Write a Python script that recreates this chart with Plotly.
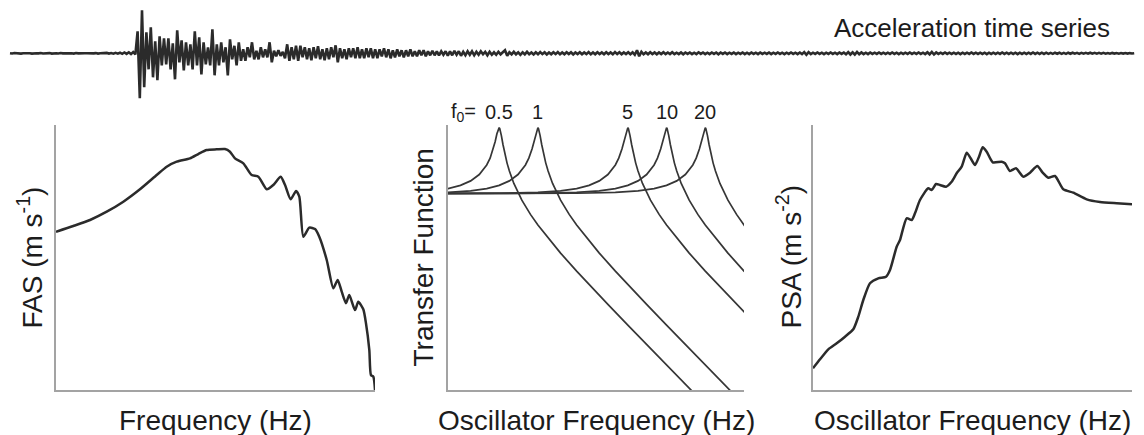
import numpy as np
import plotly.graph_objects as go

# ---------------- acceleration record (uniform sampling, arbitrary units) ----------------
dt = 0.1  # s
accel_pre = [0.1, -0.2, 0.3, -0.1, 0.2, -0.3, 0.1, 0.2, -0.2, 0.1,
             -0.3, 0.2, 0.0, -0.1, 0.3, -0.2, 0.1, -0.1, 0.2, -0.3,
             0.2, 0.1, -0.2, 0.3, -0.1, 0.0, 0.2, -0.2, 0.1, -0.3,
             0.3, -0.1, 0.2, -0.2, 0.1, 0.0, -0.2, 0.3, -0.1, 0.2,
             -0.3, 0.1, 0.2, -0.2, 0.4, -0.3, 0.2, -0.4, 0.5, -0.3,
             0.6, -0.5, 0.8, -0.6, 1.0, -0.8, 1.2, -1.0]
accel_strong = [22, -45, 43, -34, 21, -16, 26, -24, 12, -27,
                17, -12, 15, -11, 15, -16, 10, -26, 23, -9,
                13, -17, 11, -12, 9, -16, 22, -12, 16, -21,
                11, -11, 6, -12, 24, -22, 9, -12, 11, -9,
                6, -22, 14, -6, 7.5, -12, 11, -7.5, 4, -7.5,
                6, -4, 11, -6, 2.5, -6, 6, -4, 4, -4,
                11, -9, 2.5, -3, 3, -2.5, 1.5, -5, 9, -7.5,
                6, -6, 7.5, -7.5, 7.5, -4, 6]
accel_coda = [-6, 5, -7, 6, -5, 7, -6, 4, -7, 5,
              -6, 6, -4, 8, -9, 5, -5, 4, -6, 5,
              -4, 5, -5, 6, -5, 4, -5, 5, -4, 5,
              -5, 4, -5, 4, -3, 5, -4, 4, -5, 3,
              -4, 4, -3, 3, -4, 3, -3, 4, -3, 2,
              -3, 3, -2, 3, -3, 2, -2, 2.5, -2, 2,
              -2, 2, -1.5, 2]
accel_tail = [-2.5, 2, -2, 2.5, -1.5, 2, -2.5, 1.5, -2, 2,
              -1.5, 2, -2, 1.5, -1.5, 2, -1, 1.5, -2, 1.5,
              -1.5, 1, -1.5, 1.5, -1, 1, 3, -2.5, 1, -1,
              1.5, -1, 1, -1.5, 1, -1, 1.5, -1, 0.8, -1.2,
              1, -1, 1.2, -0.8, 1, -1.2, 0.8, -1, 1, -0.8,
              1.2, -1, 0.8, -1, 1, -0.8, 1, -1.2, 0.8, -0.8,
              1, -1, 0.8, -0.8, 1.2, -1, 0.8, -1, 1, -0.8,
              0.8, -1, 1, -0.8, 0.8, -1, 1.2, -0.8, 1, -1,
              0.8, -0.8, 1, -1, 1, -1.5, 3, -3, 1.5, -1,
              0.8, -1, 1, -0.8, 0.8, -1, 0.8, -0.8, 1, -0.8,
              0.8, -0.8, 1, -0.8, 0.6, -0.8, 0.8, -1, 0.8, -0.6,
              0.8, -0.8, 0.6, -0.8, 1, -0.6, 0.8, -0.8, 0.6, -0.8,
              0.8, -0.6, 0.8, -1, 0.8, -0.6, 0.8, -0.8, 0.6, -0.6,
              0.8, -0.8, 0.6, -0.6, 0.8, -0.8, 0.6, -0.8, 0.8, -0.6,
              0.6, -0.8, 0.8, -0.6, 0.6, -0.6, 0.8, -0.8, 0.6, -0.6,
              0.8, -0.6, 0.6, -0.8, 0.6, -0.6, 0.8, -0.6, 0.6, -0.8,
              0.8, -0.8, 1.2, -1.5, 1.2, -0.8, 0.6, -0.6, 0.8, -0.6,
              0.6, -0.8, 0.6, -0.6, 0.8, -0.6, 0.6, -0.8, 0.8, -0.6,
              0.8, -1, 1.2, -1.2, 1, -1.2, 1.4, -1, 0.8, -0.8,
              0.6, -0.8, 0.8, -0.6, 0.6, -0.6, 0.8, -0.6, 0.6, -0.6,
              0.6, -0.6, 0.8, -0.6, 0.6, -0.8, 0.6, -0.6, 0.6, -0.6,
              0.8, -0.6, 0.6, -0.6, 0.8, -0.6, 0.6, -0.8, 1, -1,
              1.4, -1.2, 0.8, -0.6, 0.6, -0.6, 0.8, -0.6, 0.6, -0.6,
              0.6, -0.6, 0.6, -0.8, 0.6, -0.6, 0.6, -0.6, 0.8, -0.6,
              0.6, -0.6, 0.6, -0.6, 0.6, -0.8, 0.6, -0.6, 0.6, -0.6,
              0.6, -0.6, 0.8, -0.6, 0.6, -0.6, 0.6, -0.6, 0.6, -0.8,
              0.6, -0.6, 0.6, -0.6, 0.6, -0.6, 0.8, -0.6, 0.6, -0.6,
              0.6, -0.6, 0.6, -0.6, 0.4, -0.6, 0.6, -0.4, 0.6, -0.6,
              0.4, -0.6, 0.6, -0.4, 0.6, -0.4, 0.4, -0.6, 0.4, -0.4,
              0.4, -0.4, 0.6, -0.4, 0.4, -0.4, 0.4, -0.4, 0.4, -0.4,
              0.3, -0.4, 0.4, -0.3, 0.3, -0.4, 0.3, -0.3, 0.3, -0.3,
              0.2, -0.2, 0.1]
accel = accel_pre + accel_strong + accel_coda + accel_tail
time = np.arange(len(accel)) * dt

# ---------------- Fourier amplitude spectrum ----------------
fas_freq = [0.05, 0.0727, 0.1045, 0.150, 0.2148, 0.308, 0.4426, 0.5495, 0.682, 0.910,
            1.089, 1.306, 1.622, 1.941, 2.163, 2.41, 2.89, 3.46, 4.0, 4.80,
            5.53, 6.49, 7.13, 8.05, 9.04, 9.71, 10.59, 12.05, 13.65, 14.96,
            17.58, 20.28, 22.28, 24.32, 26.67, 28.64, 32.43, 34.83, 38.8, 41.1,
            44.2, 45.8, 48.2, 50.0]
fas_amp = [0.02449, 0.02987, 0.0368, 0.0491, 0.0695, 0.1070, 0.1758, 0.2349, 0.2793, 0.3141,
           0.3648, 0.4195, 0.4295, 0.4345, 0.3954, 0.3141, 0.2642, 0.1758, 0.1659, 0.1070,
           0.1242, 0.1659, 0.1242, 0.0755, 0.1009, 0.0828, 0.0206, 0.0282, 0.0269, 0.0206,
           0.00917, 0.00343, 0.00457, 0.00305, 0.00204, 0.00272, 0.00161, 0.00215, 0.00165, 0.00102,
           0.000402, 0.000168, 0.000159, 0.0001]

# ---------------- SDOF transfer functions (5 % damping) ----------------
f0_values = [0.5, 1, 5, 10, 20]
f0_labels = ["0.5", "1", "5", "10", "20"]
tf_ratio = [0.01, 0.1, 0.2, 0.3, 0.4, 0.5, 0.6, 0.7, 0.8, 0.85,
            0.9, 0.93, 0.96, 0.98, 0.99, 1.0, 1.01, 1.02, 1.04, 1.07,
            1.1, 1.15, 1.2, 1.3, 1.5, 1.75, 2.0, 2.5, 3.0, 4.0,
            5.0, 7.0, 10, 15, 20, 30, 50, 80]
tf_gain = [1.0, 1.010, 1.041, 1.098, 1.189, 1.330, 1.556, 1.943, 2.712, 3.446,
           4.757, 6.097, 8.07, 9.46, 9.903, 10.0, 9.711, 9.115, 7.565, 5.551,
           4.218, 2.921, 2.193, 1.424, 0.7943, 0.4831, 0.3326, 0.1903, 0.1249, 0.06664,
           0.04166, 0.02083, 0.0101, 0.004464, 0.002506, 0.001112, 0.0004002, 0.0001563]

# ---------------- pseudo-spectral acceleration ----------------
psa_freq = [0.1, 0.1164, 0.1393, 0.1671, 0.2, 0.2393, 0.2667, 0.2972, 0.3436, 0.4111,
            0.4862, 0.5297, 0.6124, 0.6577, 0.7603, 0.8472, 0.910, 1.014, 1.213, 1.306,
            1.435, 1.563, 1.782, 2.014, 2.244, 2.5, 2.79, 3.04, 3.34, 3.64,
            3.945, 4.30, 4.90, 5.95, 6.39, 7.12, 8.11, 9.50, 10.99, 12.86,
            14.45, 16.33, 18.88, 22.6, 28.05, 37.5, 50.0, 71.8, 100]
psa_amp = [0.002126, 0.002904, 0.004111, 0.00507, 0.006383, 0.008241, 0.01277, 0.02282, 0.04083, 0.04853,
           0.05129, 0.06471, 0.1455, 0.1837, 0.3908, 0.3681, 0.4645, 0.7379, 1.109, 1.045,
           1.285, 1.242, 1.172, 1.393, 1.866, 2.350, 3.819, 3.141, 2.489, 3.323,
           4.607, 3.954, 2.735, 2.793, 2.642, 2.023, 2.218, 1.660, 1.905, 2.404,
           1.905, 1.603, 1.698, 1.069, 0.9506, 0.7558, 0.6887, 0.6577, 0.6353]

# ---------------- styling ----------------
W, H = 1144, 435
FONT = "Liberation Sans, Arial, sans-serif"
INK = "#2b2b2b"
TEXT = "#1c1c1c"
SPINE = "#a3a3a3"


def px_x(p):
    return p / W


def px_y(p):
    return 1 - p / H


fig = go.Figure()

fig.add_trace(go.Scatter(x=time, y=accel, mode="lines", xaxis="x", yaxis="y",
                         line=dict(color=INK, width=2.6)))

fig.add_trace(go.Scatter(x=fas_freq, y=fas_amp, mode="lines", xaxis="x2", yaxis="y2",
                         line=dict(color=INK, width=2.5, shape="spline", smoothing=0.6)))

tf_ratio_arr = np.array(tf_ratio)
for f0 in f0_values:
    fig.add_trace(go.Scatter(x=tf_ratio_arr * f0, y=tf_gain, mode="lines",
                             xaxis="x3", yaxis="y3",
                             line=dict(color="#363636", width=1.7)))

fig.add_trace(go.Scatter(x=psa_freq, y=psa_amp, mode="lines", xaxis="x4", yaxis="y4",
                         line=dict(color=INK, width=2.5, shape="spline", smoothing=0.6)))

hidden = dict(showline=False, showticklabels=False, showgrid=False, zeroline=False,
              ticks="", fixedrange=True)
spine = dict(showline=True, linecolor=SPINE, linewidth=1.5, showticklabels=False,
             showgrid=False, zeroline=False, ticks="", fixedrange=True)

panel_y = [px_y(390), px_y(125)]

fig.update_layout(
    width=W, height=H,
    margin=dict(l=0, r=0, t=0, b=0),
    paper_bgcolor="white", plot_bgcolor="white",
    showlegend=False,
    xaxis=dict(domain=[0, 1], range=[-10 / 22, 1134 / 22], anchor="y", **hidden),
    yaxis=dict(domain=[px_y(103.3), px_y(3.3)], range=[-50, 50], anchor="x", **hidden),
    xaxis2=dict(domain=[px_x(56), px_x(375)], type="log",
                range=[np.log10(0.05), np.log10(50)], anchor="y2", **spine),
    yaxis2=dict(domain=panel_y, type="log", range=[-4, 0], anchor="x2", **spine),
    xaxis3=dict(domain=[px_x(448), px_x(744)], type="log",
                range=[np.log10(0.2), np.log10(40)], anchor="y3", **spine),
    yaxis3=dict(domain=panel_y, type="log", range=[-2.98, 1.04], anchor="x3", **spine),
    xaxis4=dict(domain=[px_x(813), px_x(1132)], type="log",
                range=[-1, 2], anchor="y4", **spine),
    yaxis4=dict(domain=panel_y, type="log", range=[-3, 1], anchor="x4", **spine),
)

annotations = []


def label(text, x, y, size, xanchor="center", angle=0, xref="paper"):
    annotations.append(dict(text=text, x=x, y=y, xref=xref, yref="paper",
                            xanchor=xanchor, yanchor="middle", textangle=angle,
                            showarrow=False, font=dict(family=FONT, size=size, color=TEXT)))


label("Acceleration time series", px_x(1112), px_y(28), 26, xanchor="right")

title_y = px_y(420.3)
label("Frequency (Hz)", px_x(215.5), title_y, 28)
label("Oscillator Frequency (Hz)", px_x(596), title_y, 28)
label("Oscillator Frequency (Hz)", px_x(972.5), title_y, 28)

mid_y = px_y(257.5)
label("FAS (m s<sup>-1</sup>)", px_x(30), mid_y, 28, angle=-90)
label("Transfer Function", px_x(423), mid_y, 28, angle=-90)
label("PSA (m s<sup>-2</sup>)", px_x(789), mid_y, 28, angle=-90)

label("f<sub>0</sub>=", px_x(449), px_y(112), 20, xanchor="left")
for f0, txt in zip(f0_values, f0_labels):
    label(txt, float(np.log10(f0)), px_y(111.6), 20, xref="x3")

fig.update_layout(annotations=annotations)

fig.write_html("out.html")
